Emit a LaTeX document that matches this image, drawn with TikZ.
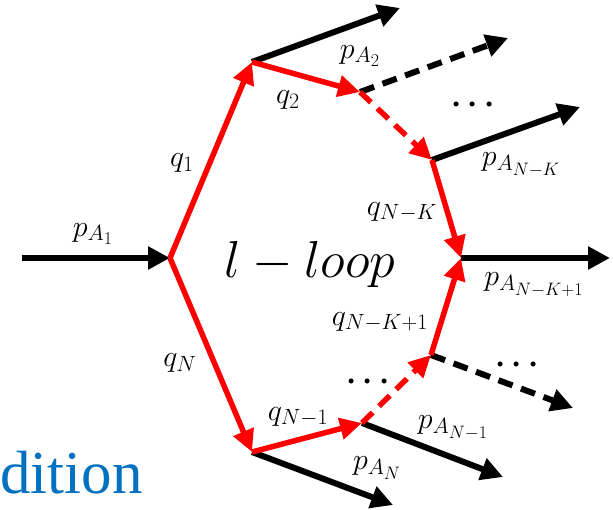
\RequirePackage{fix-cm}
\documentclass[tikz,border=0pt]{standalone}
\usepackage{fontspec}
\usepackage{xcolor}
\usepackage{tikz}
\usetikzlibrary{arrows.meta,positioning}
\newfontfamily\serifblue{Liberation Serif}
\definecolor{loopred}{RGB}{255, 0, 0}
\definecolor{titleblue}{RGB}{0, 112, 192}
\DeclareMathSizes{30}{30}{22}{18}
\DeclareMathSizes{32}{32}{23}{18}

\begin{document}
\begin{tikzpicture}[x=1pt, y=-1pt,
    every node/.style={font=\fontsize{30}{32}\selectfont, inner sep=0pt},
    pline/.style={line width=6pt, -{Triangle[length=22pt, width=22pt]}},
    qline/.style={loopred, line width=5.5pt, -{Triangle[length=22pt, width=21pt]}},
    dashline/.style={dash pattern=on 15pt off 9pt},
    dotsnode/.style={font=\fontsize{32}{34}\selectfont\boldmath}]
    \useasboundingbox (0,0) rectangle (613,510);

    % Loop vertices
    \coordinate (v0) at (170, 258);
    \coordinate (v1) at (252, 62);
    \coordinate (v2) at (360, 92);
    \coordinate (v3) at (432, 160);
    \coordinate (v4) at (461, 258);
    \coordinate (v5) at (431, 355);
    \coordinate (v6) at (362, 423);
    \coordinate (v7) at (252, 452);

    % Outer ends
    \coordinate (in) at (22, 258);
    \coordinate (o1) at (400, 8);
    \coordinate (o2) at (508, 38);
    \coordinate (o3) at (580, 107);
    \coordinate (o4) at (610, 258);
    \coordinate (o5) at (573, 408);
    \coordinate (o6) at (503, 477);
    \coordinate (o7) at (393, 505);

    % Momenta
    \draw[pline] (in) -- (v0);
    \draw[pline] (v1) -- (o1);
    \draw[pline, dashline] (v2) -- (o2);
    \draw[pline] (v3) -- (o3);
    \draw[pline] (v4) -- (o4);
    \draw[pline, dashline] (v5) -- (o5);
    \draw[pline] (v6) -- (o6);
    \draw[pline] (v7) -- (o7);

    % Loop propagators
    \draw[qline] (v0) -- (v1);
    \draw[qline] (v1) -- (v2);
    \draw[qline, dashline] (v2) -- (v3);
    \draw[qline] (v3) -- (v4);
    \draw[qline] (v5) -- (v4);
    \draw[qline, dashline] (v6) -- (v5);
    \draw[qline] (v7) -- (v6);
    \draw[qline] (v0) -- (v7);

    % Labels
    \node (pa1) at (93, 234) {$p_{A_1}$};
    \node (q1) at (182, 163) {$q_1$};
    \node (q2) at (288, 100) {$q_2$};
    \node (pa2) at (360, 56) {$p_{A_2}$};
    \node (qnk) at (402, 212) {$q_{N-K}$};
    \node (pank) at (521, 165) {$p_{A_{N-K}}$};
    \node (pank1) at (534, 285) {$p_{A_{N-K+1}}$};
    \node (qnk1) at (380, 322) {$q_{N-K+1}$};
    \node (qn1) at (298, 417) {$q_{N-1}$};
    \node (pan1) at (453, 428) {$p_{A_{N-1}}$};
    \node (pan) at (377, 468) {$p_{A_N}$};
    \node (qn) at (180, 363) {$q_N$};
    \node[dotsnode] (dots1) at (473, 105) {$\cdots$};
    \node[dotsnode] (dots2) at (517, 365) {$\cdots$};
    \node[dotsnode] (dots3) at (368, 382) {$\cdots$};
    \node (loop) at (310, 265) {\fontsize{52}{56}\selectfont $l-loop$};
    \node[anchor=base west, text=titleblue] (title) at (0, 493) {\serifblue\fontsize{61}{63}\selectfont dition};
\end{tikzpicture}
\end{document}
